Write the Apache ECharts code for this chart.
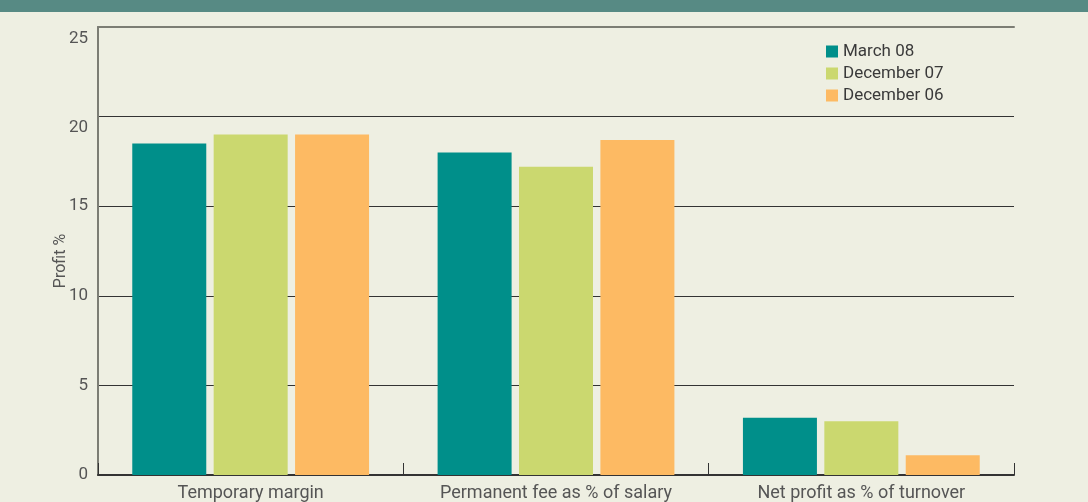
<!DOCTYPE html>
<html><head><meta charset="utf-8">
<script src="https://cdn.jsdelivr.net/npm/echarts@6/dist/echarts.min.js"></script>
<style>html,body{margin:0;padding:0;background:#eeefe2;}#c{width:1088px;height:502px;}</style>
</head><body><div id="c"></div>
<script>
const categories = ['Temporary margin', 'Permanent fee as % of salary', 'Net profit as % of turnover'];
const march08 = [18.5, 18.0, 3.2];
const december07 = [19.0, 17.2, 3.0];
const december06 = [19.0, 18.7, 1.1];
const seriesNames = ['March 08', 'December 07', 'December 06'];
const colors = ['#008f8a', '#cbd86f', '#fdba63'];
const font = 'Roboto, "Open Sans", sans-serif';

const chart = echarts.init(document.getElementById('c'));
const vals = [march08, december07, december06];
chart.setOption({
  backgroundColor: '#eeefe2',
  animation: false,
  graphic: [{type: 'rect', shape: {x: 0, y: 0, width: 1088, height: 12}, style: {fill: '#578a84'}}],
  legend: {
    orient: 'vertical', left: 821, top: 38, itemWidth: 12, itemHeight: 12, itemGap: 5,
    icon: 'rect',
    textStyle: {fontFamily: font, fontSize: 17, color: '#3a3a3a'},
    data: seriesNames
  },
  grid: {left: 98, right: 74, top: 27, bottom: 27},
  xAxis: [{
    type: 'category', data: categories,
    axisLine: {lineStyle: {color: '#333', width: 2}},
    axisTick: {show: true, inside: true, length: 12, lineStyle: {color: '#333', width: 1}},
    axisLabel: {fontFamily: font, fontSize: 18, color: '#555', margin: 9}
  }, {
    type: 'category', data: categories, position: 'top',
    axisLine: {lineStyle: {color: '#7c7d74', width: 2}},
    axisTick: {show: false}, axisLabel: {show: false}
  }],
  yAxis: {
    type: 'value', min: 0, max: 25, interval: 5,
    name: 'Profit %', nameLocation: 'middle', nameGap: 29, nameRotate: 90, nameMoveOverlap: false,
    nameTextStyle: {fontFamily: font, fontSize: 16, color: '#555', padding: [0, 20, 0, 0]},
    axisLine: {show: true, lineStyle: {color: '#7c7d74', width: 2}},
    axisTick: {show: false},
    axisLabel: {
      fontFamily: font, fontSize: 17, color: '#555', margin: 10,
      formatter: v => (v >= 20 ? '{low|' + v + '}' : '' + v),
      rich: {low: {fontFamily: font, fontSize: 17, color: '#555', padding: [23, 0, 0, 0]}}
    },
    splitLine: {show: true, lineStyle: {color: ['transparent', '#333', '#333', '#333', '#333', 'transparent'], width: 1}}
  },
  series: seriesNames.map((n, i) => ({
    name: n, type: 'bar', data: vals[i], barWidth: 74, barGap: '10%',
    itemStyle: {color: colors[i]}
  }))
});
</script></body></html>
